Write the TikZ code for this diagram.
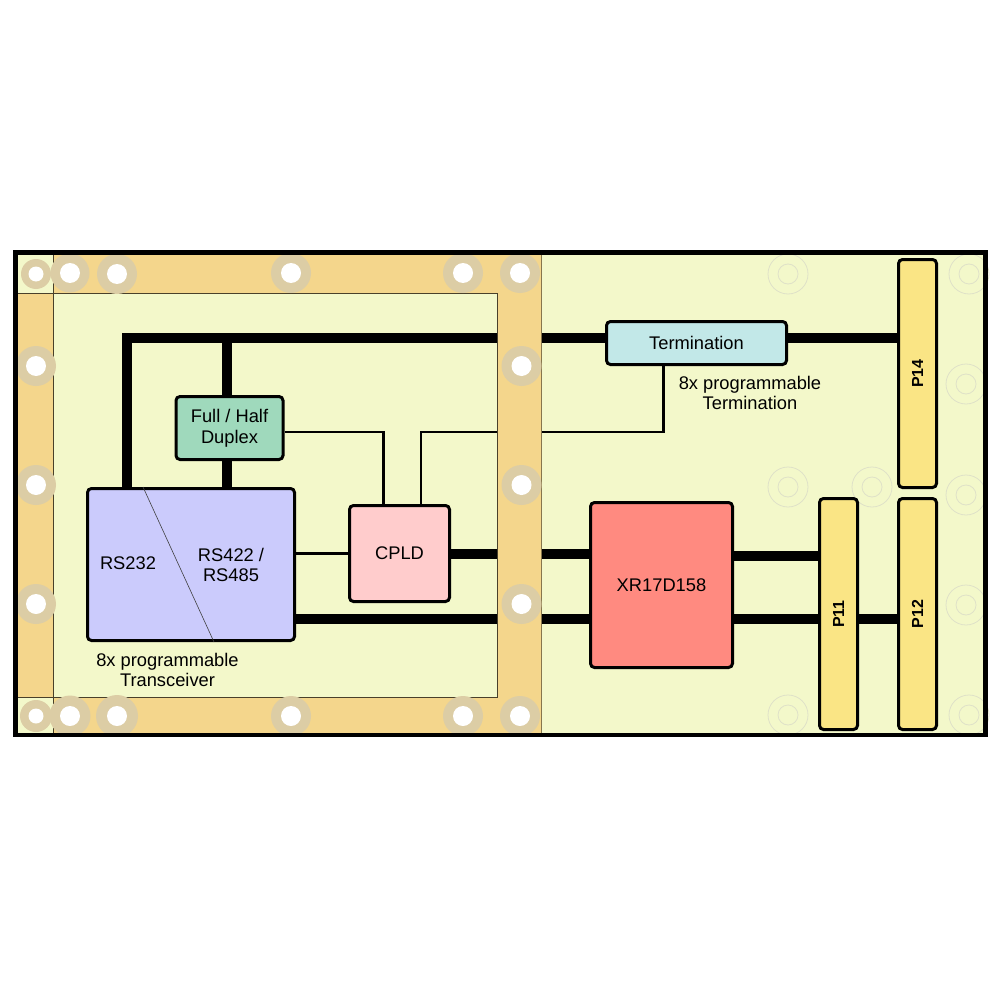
\documentclass[tikz,border=0pt]{standalone}
\usepackage{fontspec}
\setmainfont{Liberation Sans}
\usepackage{tikz}
\usetikzlibrary{positioning,calc}
\definecolor{boardgreen}{HTML}{F3F8CA}
\definecolor{bandtan}{HTML}{F4D68C}
\definecolor{ringtan}{HTML}{DCCDA5}
\definecolor{ghostgrey}{HTML}{DFE1C8}
\definecolor{connyellow}{HTML}{FAE585}
\definecolor{termblue}{HTML}{C2E8E8}
\definecolor{duplexgreen}{HTML}{9FD9BC}
\definecolor{transblue}{HTML}{CBCBFC}
\definecolor{cpldpink}{HTML}{FFCCCC}
\definecolor{xrred}{HTML}{FF8A80}
\tikzstyle{block} = [rectangle, draw=black, line width=3pt, rounded corners=4pt, inner sep=0pt, text=black, font=\fontsize{18.3}{21}\selectfont, align=center]
\tikzstyle{connector} = [block, fill=connyellow, minimum width=38pt]
\tikzstyle{pinlabel} = [font=\fontsize{16}{18}\selectfont\bfseries, rotate=90, inner sep=0pt]
\tikzstyle{caption} = [inner sep=0pt, text=black, font=\fontsize{18.3}{20.5}\selectfont, align=center]
\tikzstyle{bus} = [line width=10pt, draw=black]
\tikzstyle{signal} = [line width=2.4pt, draw=black]

\begin{document}
\begin{tikzpicture}[x=1pt,y=-1pt]
        \useasboundingbox (0,0) rectangle (1000,1000);
        \fill[boardgreen] (15,252) rectangle (986,735);

        % ghost holes on the right
        \foreach \hx/\hy in {788/274, 969/274, 966/384, 788/487, 872/487, 966/495, 966/605, 788/715, 969/715} {
            \draw[ghostgrey, line width=0.8pt] (\hx,\hy) circle (20) (\hx,\hy) circle (10);
        }

        \node[block, fill=termblue, minimum width=180pt, minimum height=43pt] (termination) at (696.5,343) {Termination};
        \node[block, fill=duplexgreen, minimum width=107pt, minimum height=63pt] (duplex) at (229.5,428) {Full / Half\\[0pt]Duplex};
        \node[block, fill=transblue, minimum width=207pt, minimum height=152pt] (transceiver) at (191,564.5) {};
        \node[block, fill=cpldpink, minimum width=100pt, minimum height=96pt] (cpld) at (399.5,553.5) {CPLD};
        \node[block, fill=xrred, minimum width=142pt, minimum height=165pt] (xr) at (661.5,585) {XR17D158};
        \node[connector, minimum height=228pt] (pfourteen) at (917.5,373.5) {};
        \node[connector, minimum height=231pt] (ptwelve) at (917.5,614) {};
        \node[connector, minimum height=231pt] (peleven) at (838.5,614) {};

        \node[pinlabel] (labelfourteen) at (pfourteen) {P14};
        \node[pinlabel] (labeltwelve) at (ptwelve) {P12};
        \node[pinlabel] (labeleleven) at (peleven) {P11};

        \node[caption] (rsone) at (128,563) {RS232};
        \node[caption] (rstwo) at (231,565) {RS422 /\\RS485};
        \node[caption] (transcaption) at (167.5,670) {8x programmable\\Transceiver};
        \node[caption] (termcaption) at (750,393) {8x programmable\\Termination};

        \draw[line width=0.6pt, draw=black!75] ([xshift=-48pt]transceiver.north) -- ([xshift=23pt]transceiver.south);

        % junctions
        \coordinate (busleft) at (127,338);
        \coordinate (bustap) at (227,338);
        \coordinate (termbus) at (600,338);
        \coordinate (cpldbus) at (600,553.5);
        \coordinate (cpldleft) at (383.5,432);
        \coordinate (cpldright) at (421,432);
        \coordinate (termtap) at (663.5,432);
        \coordinate (lowbus) at (600,619);
        \coordinate (midbus) at (600,556);

        % thick buses
        \draw[bus] (transceiver.north -| busleft) -- (busleft) -- (termination.west |- busleft);
        \draw[bus] (bustap) -- (duplex.north -| bustap);
        \draw[bus] (duplex.south -| bustap) -- (transceiver.north -| bustap);
        \draw[bus] (termination.east |- termbus) -- (pfourteen.west |- termbus);
        \draw[bus] (cpld.east |- cpldbus) -- (xr.west |- cpldbus);
        \draw[bus] (transceiver.east |- lowbus) -- (xr.west |- lowbus);
        \draw[bus] (xr.east |- midbus) -- (peleven.west |- midbus);
        \draw[bus] (xr.east |- lowbus) -- (peleven.west |- lowbus);
        \draw[bus] (peleven.east |- lowbus) -- (ptwelve.west |- lowbus);

        % thin signals
        \draw[signal] (transceiver.east |- cpld) -- (cpld.west);
        \draw[signal] (duplex.east |- cpldleft) -- (cpldleft) -- (cpld.north -| cpldleft);
        \draw[signal] (cpld.north -| cpldright) -- (cpldright) -- (termtap) -- (termination.south -| termtap);

        % mounting frame
        \fill[bandtan] (17,255) rectangle (541,293);
        \fill[bandtan] (17,697) rectangle (541,733);
        \fill[bandtan] (17,293) rectangle (53,697);
        \fill[bandtan] (497,293) rectangle (541,697);
        \fill[boardgreen] (17,255) rectangle (53,293);
        \fill[boardgreen] (17,697) rectangle (53,733);
        \draw[line width=0.8pt, draw=black!70!bandtan] (53,255) -- (53,733);
        \draw[line width=0.8pt, draw=black!70!bandtan] (17,293) -- (497,293) -- (497,697) -- (17,697);
        \draw[line width=0.8pt, draw=black!45!bandtan] (541,255) -- (541,733);

        \foreach \hx/\hy/\ro/\ri in {36/274/15/7.5, 70/273/19.5/10, 117/274/20/10, 291/273/20/10, 463/273/20/10, 520/273/20/10,
            36/366/20/10, 36/485/20/10, 36/604/20/10, 521.5/366/20/10, 521.5/485/20/10, 521.5/604/20/10,
            36/716/16/7.5, 70/716/20.5/10, 117/716/21/10, 291/716/20/10, 463/716/20/10, 520/716/20/10} {
            \fill[ringtan] (\hx,\hy) circle (\ro);
            \fill[white] (\hx,\hy) circle (\ri);
        }

        \draw[line width=4.5pt, draw=black] (15.5,252.5) rectangle (985.5,735);
\end{tikzpicture}
\end{document}
